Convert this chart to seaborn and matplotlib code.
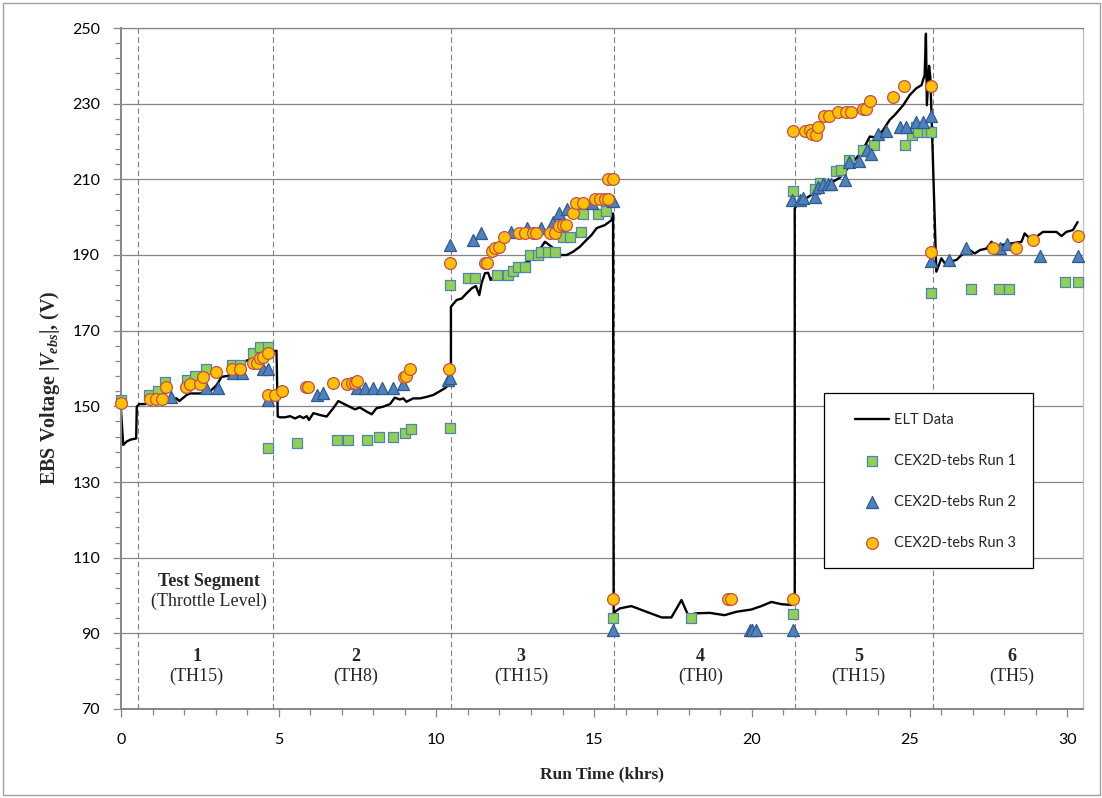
import numpy as np
import matplotlib
matplotlib.use("Agg")
import matplotlib.pyplot as plt
import seaborn as sns
from matplotlib.patches import Rectangle

# ELT measured EBS voltage trace (khrs, V)
elt_time = [0.0, 0.07, 0.18, 0.3, 0.48, 0.5, 0.58, 0.76, 0.95, 1.2, 1.45, 1.76, 1.85, 2.08, 2.19,
            2.5, 2.82, 3.03, 3.19, 3.35, 3.55, 3.88, 4.03, 4.35, 4.62, 4.93, 4.97, 5.04, 5.2, 5.36,
            5.52, 5.67, 5.78, 5.89, 5.96, 6.1, 6.31, 6.52, 6.73, 6.89, 7.15, 7.42, 7.57, 7.79, 7.95,
            8.1, 8.31, 8.53, 8.68, 8.84, 8.95, 9.05, 9.26, 9.48, 9.69, 9.9, 10.11, 10.27, 10.41, 10.46,
            10.46, 10.64, 10.8, 10.96, 11.12, 11.25, 11.36, 11.43, 11.54, 11.64, 11.72, 11.85, 12.22,
            12.43, 12.65, 12.96, 13.28, 13.44, 13.65, 13.91, 14.13, 14.34, 14.55, 14.76, 14.92, 15.08,
            15.34, 15.55, 15.6, 15.62, 15.66, 15.82, 16.18, 16.66, 17.14, 17.45, 17.77, 17.98, 18.25,
            18.67, 19.14, 19.51, 19.99, 20.3, 20.62, 20.94, 21.26, 21.36, 21.36, 21.47, 21.63, 22.0,
            22.4, 22.8, 23.1, 23.4, 23.63, 23.74, 23.95, 24.16, 24.37, 24.53, 24.8, 25.01, 25.22,
            25.38, 25.48, 25.52, 25.55, 25.62, 25.66, 25.85, 26.01, 26.12, 26.27, 26.49, 26.65, 26.91,
            27.07, 27.23, 27.44, 27.6, 27.76, 27.86, 28.18, 28.55, 28.65, 28.81, 29.02, 29.23, 29.66,
            29.82, 29.97, 30.18, 30.33]
elt_volts = [149.0, 139.8, 140.7, 141.2, 141.5, 149.9, 150.6, 150.6, 151.2, 151.4, 151.7, 152.1, 151.4,
             153.0, 153.4, 153.4, 153.9, 155.6, 157.8, 158.0, 158.3, 161.8, 162.2, 164.0, 164.4, 164.7,
             147.3, 147.1, 147.1, 147.4, 146.8, 147.4, 146.9, 147.4, 146.4, 148.2, 147.7, 147.3, 149.5,
             151.4, 150.3, 149.2, 149.7, 148.6, 147.9, 149.5, 149.9, 150.6, 152.3, 151.8, 152.1, 151.2,
             152.1, 152.1, 152.5, 153.0, 154.0, 154.8, 155.8, 157.0, 176.3, 178.1, 178.5, 179.9, 181.2,
             181.8, 179.4, 182.5, 185.2, 185.3, 183.4, 184.7, 184.7, 185.6, 187.3, 188.5, 191.5, 193.5,
             192.2, 190.0, 190.0, 190.9, 192.2, 194.0, 195.3, 197.1, 197.9, 199.2, 201.0, 95.0, 95.7,
             96.6, 97.2, 95.7, 94.2, 94.2, 98.8, 94.8, 95.3, 95.4, 94.8, 95.7, 96.3, 97.2, 98.3, 97.7,
             97.5, 97.9, 202.3, 203.7, 204.5, 206.5, 208.5, 210.5, 213.5, 216.5, 219.5, 221.3, 221.1,
             223.0, 225.7, 227.0, 229.6, 232.3, 234.1, 234.9, 237.6, 248.5, 229.6, 240.0, 237.0, 185.6,
             189.1, 187.8, 188.2, 188.7, 190.0, 191.3, 190.4, 191.3, 191.7, 193.5, 191.3, 192.6, 193.0,
             193.5, 195.7, 194.4, 194.8, 196.1, 196.1, 195.0, 196.1, 196.6, 198.7]

# CEX2D-tebs Run 1
run1_time = [0.0, 0.9, 1.16, 1.4, 2.1, 2.35, 2.69, 3.51, 3.77, 4.19, 4.4, 4.67, 4.67, 5.57, 6.85,
             7.2, 7.79, 8.19, 8.63, 9.0, 9.21, 10.43, 10.43, 11.01, 11.22, 11.91, 12.28, 12.43,
             12.59, 12.81, 12.96, 13.23, 13.33, 13.54, 13.76, 14.02, 14.23, 14.6, 14.65, 15.13,
             15.39, 15.6, 18.06, 21.29, 21.29, 22.0, 22.15, 22.68, 22.84, 23.08, 23.51, 23.87,
             24.85, 25.09, 25.2, 25.27, 25.54, 25.69, 25.69, 26.96, 27.84, 28.16, 29.92, 30.34]
run1_volts = [151.7, 153.0, 154.0, 156.3, 157.0, 158.0, 160.0, 160.9, 160.9, 164.0, 165.8, 165.8,
              138.9, 140.2, 141.1, 141.1, 141.1, 142.0, 142.0, 143.0, 143.9, 144.2, 182.1, 184.0,
              184.0, 184.7, 184.7, 185.8, 186.7, 186.7, 190.0, 190.0, 190.9, 190.9, 190.9, 194.7,
              194.7, 196.2, 200.8, 200.8, 201.7, 94.1, 94.1, 95.1, 206.9, 207.4, 209.0, 212.1,
              212.5, 215.1, 217.8, 219.1, 219.1, 221.7, 223.9, 222.6, 222.6, 222.6, 180.0, 180.9,
              180.9, 180.9, 182.9, 182.9]

# CEX2D-tebs Run 2
run2_time = [1.58, 2.71, 3.08, 3.54, 3.83, 4.51, 4.67, 4.65, 6.22, 6.39, 7.47, 7.73, 8.0, 8.26,
             8.61, 8.95, 10.37, 10.43, 10.43, 11.17, 11.41, 12.38, 12.86, 13.33, 13.7, 13.89,
             14.13, 14.92, 15.6, 15.6, 19.94, 20.02, 20.14, 21.29, 21.26, 21.52, 21.63, 22.0,
             22.1, 22.26, 22.42, 22.52, 22.95, 23.08, 23.4, 23.65, 23.79, 24.0, 24.27, 24.69,
             24.88, 25.22, 25.43, 25.69, 25.69, 26.25, 26.78, 27.86, 28.09, 29.15, 30.34]
run2_volts = [152.5, 154.8, 154.8, 158.7, 158.7, 160.0, 160.0, 151.7, 153.0, 153.6, 154.8, 154.8,
              154.8, 154.8, 154.8, 155.9, 157.0, 157.5, 192.6, 194.0, 195.9, 196.2, 197.1, 197.1,
              198.8, 201.0, 202.1, 203.7, 204.4, 91.0, 91.0, 91.0, 91.0, 91.0, 204.5, 204.5, 205.0,
              205.4, 208.0, 208.8, 208.8, 208.8, 209.8, 214.7, 214.9, 217.8, 216.7, 222.0, 222.9,
              223.9, 223.9, 225.2, 225.2, 226.7, 188.5, 188.7, 191.8, 191.8, 192.9, 189.7, 189.7]

# CEX2D-tebs Run 3
run3_time = [0.0, 0.93, 1.11, 1.3, 1.42, 2.06, 2.19, 2.5, 2.59, 3.01, 3.51, 3.77, 4.17, 4.3, 4.4,
             4.51, 4.67, 4.67, 4.88, 5.09, 5.86, 5.94, 6.71, 7.15, 7.31, 7.42, 7.49, 8.97, 9.03,
             9.16, 10.41, 10.43, 11.54, 11.6, 11.75, 11.85, 11.99, 12.14, 12.63, 12.81, 13.07,
             13.17, 13.6, 13.76, 13.89, 14.02, 14.1, 14.32, 14.42, 14.65, 15.02, 15.18, 15.34,
             15.45, 15.45, 15.6, 15.6, 19.25, 19.33, 21.29, 21.29, 21.68, 21.86, 21.92, 22.03,
             22.1, 22.28, 22.45, 22.74, 22.98, 23.13, 23.51, 23.63, 23.76, 24.48, 24.83, 25.69,
             25.69, 27.66, 28.36, 28.91, 30.34]
run3_volts = [151.0, 152.0, 152.0, 152.0, 155.0, 155.0, 155.9, 155.9, 157.8, 159.2, 159.9, 159.9,
              161.4, 161.5, 162.7, 163.1, 164.0, 153.0, 153.0, 154.1, 155.0, 155.0, 156.1, 155.9,
              156.1, 156.1, 156.8, 157.7, 158.0, 160.0, 160.0, 187.8, 187.8, 187.8, 191.1, 191.8,
              192.0, 194.8, 195.9, 195.9, 195.9, 195.9, 195.9, 195.9, 197.7, 197.9, 197.9, 201.0,
              203.8, 203.8, 204.7, 204.7, 204.7, 204.7, 210.0, 210.0, 99.0, 99.0, 99.0, 99.0, 222.9,
              222.9, 223.0, 222.0, 221.7, 223.9, 226.7, 226.7, 227.7, 227.7, 227.7, 228.6, 228.6,
              230.8, 231.7, 234.8, 234.8, 190.9, 191.8, 191.8, 194.0, 195.0]

# Test segment boundaries and labels
segment_bounds = [0.53, 4.83, 10.46, 15.62, 21.37, 25.74]
segment_numbers = ["1", "2", "3", "4", "5", "6"]
segment_throttle = ["(TH15)", "(TH8)", "(TH15)", "(TH0)", "(TH15)", "(TH5)"]
segment_label_x = [2.4, 7.44, 12.68, 18.38, 23.39, 28.24]

x_ticks = [0, 5, 10, 15, 20, 25, 30]
y_ticks = [70, 90, 110, 130, 150, 170, 190, 210, 230, 250]

sns.set_theme(style="white")
plt.rcParams["font.family"] = ["Lato", "DejaVu Sans"]
plt.rcParams["mathtext.fontset"] = "custom"
plt.rcParams["mathtext.it"] = "Liberation Serif:italic:bold"
plt.rcParams["mathtext.rm"] = "Liberation Serif:bold"
plt.rcParams["mathtext.bf"] = "Liberation Serif:bold"

W, H = 1102, 798
fig = plt.figure(figsize=(W / 100, H / 100), dpi=100)
ax = fig.add_axes([121 / W, 1 - 709 / H, (1083 - 121) / W, (709 - 28) / H])

grid_gray = "#868686"

for xb in segment_bounds:
    ax.axvline(xb, color="#7f7f7f", lw=0.8, ls=(0, (5, 3)), zorder=1)

sns.lineplot(x=elt_time, y=elt_volts, sort=False, estimator=None, color="black",
             lw=1.7, label="ELT Data", ax=ax, zorder=2)
sns.scatterplot(x=run1_time, y=run1_volts, marker="s", s=50, color="#92D050",
                edgecolor="#4F81BD", linewidth=0.9, label="CEX2D-tebs Run 1",
                ax=ax, zorder=3, clip_on=False)
sns.scatterplot(x=run2_time, y=run2_volts, marker="^", s=75, color="#4F81BD",
                edgecolor="#2F5A8E", linewidth=0.9, label="CEX2D-tebs Run 2",
                ax=ax, zorder=4, clip_on=False)
sns.scatterplot(x=run3_time, y=run3_volts, marker="o", s=72, color="#FFC000",
                edgecolor="#C0504D", linewidth=0.9, label="CEX2D-tebs Run 3",
                ax=ax, zorder=5, clip_on=False)

ax.set_xlim(0, 30.5)
ax.set_ylim(70, 250)
ax.set_xticks(x_ticks)
ax.set_xticks(np.arange(0, 31, 1), minor=True)
ax.set_yticks(y_ticks)
ax.set_yticks(np.arange(70, 251, 4), minor=True)
ax.set_axisbelow(True)
ax.yaxis.grid(True, which="major", color=grid_gray, lw=0.9)
ax.xaxis.grid(False)

ax.tick_params(axis="both", which="both", direction="out", color=grid_gray,
               labelcolor="black", bottom=True, left=True, top=False, right=False)
ax.tick_params(axis="both", which="major", length=5.5, width=0.9, labelsize=11.5)
ax.tick_params(axis="both", which="minor", length=4, width=0.9)
ax.tick_params(axis="x", which="major", pad=12)
ax.tick_params(axis="y", which="major", pad=9.5)

for side in ["left", "bottom"]:
    ax.spines[side].set_color(grid_gray)
    ax.spines[side].set_linewidth(1.4)
ax.spines["top"].set_color(grid_gray)
ax.spines["top"].set_linewidth(0.9)
ax.spines["right"].set_color("#bfbfbf")
ax.spines["right"].set_linewidth(0.9)

ax.set_xlabel("Run Time (khrs)", family="Liberation Serif", weight="bold", fontsize=12.5)
ax.xaxis.set_label_coords(0.5, -0.084)
ax.set_ylabel(r"EBS Voltage |$V_{ebs}$|, (V)", family="Liberation Serif",
              weight="bold", fontsize=14.5)
ax.yaxis.set_label_coords(-0.061, 0.472)

ax.text(2.79, 103.6, "Test Segment", ha="center", va="center",
        family="Liberation Serif", weight="bold", fontsize=13)
ax.text(2.80, 98.35, "(Throttle Level)", ha="center", va="center",
        family="Liberation Serif", fontsize=13)
for xl, num, th in zip(segment_label_x, segment_numbers, segment_throttle):
    ax.text(xl, 83.8, num, ha="center", va="center",
            family="Liberation Serif", weight="bold", fontsize=13)
    ax.text(xl, 78.5, th, ha="center", va="center",
            family="Liberation Serif", fontsize=13)

# legend: frameless entries inside a separate white box
handles, labels = ax.get_legend_handles_labels()
if ax.get_legend() is not None:
    ax.get_legend().remove()
box = Rectangle((824 / W, 1 - 567.7 / H), (1032.7 - 824) / W, (567.7 - 393.3) / H,
                transform=fig.transFigure, facecolor="white", edgecolor="black",
                lw=0.9, zorder=6, clip_on=False)
ax.add_patch(box)
leg = ax.legend(handles, labels, loc="upper left",
                bbox_to_anchor=(848 / W, 1 - 406 / H), bbox_transform=fig.transFigure,
                frameon=False, borderpad=0, labelspacing=1.85, handlelength=2.3,
                handletextpad=0.35, fontsize=10.5, markerscale=1.0)
leg.set_zorder(7)

# chart border
fig.add_artist(Rectangle((3 / W, 3 / H), 1097 / W, 792 / H, transform=fig.transFigure,
                         fill=False, edgecolor="#a0a0a0", lw=1.0))

fig.savefig("out.png", dpi=100)
